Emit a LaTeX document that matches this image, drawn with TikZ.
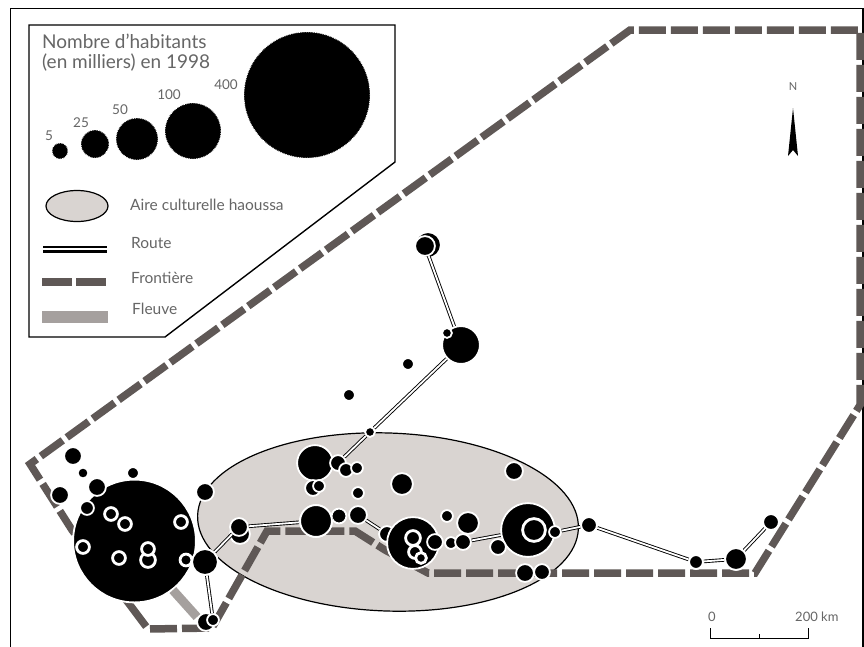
\documentclass[tikz,border=0pt]{standalone}
\usepackage{fontspec}
\setmainfont{Lato}
\usetikzlibrary{shapes.geometric}
\definecolor{front}{HTML}{5F5856}
\definecolor{fleuve}{HTML}{A5A09E}
\definecolor{aire}{HTML}{D9D4D1}
\definecolor{txt}{HTML}{666666}
\tikzset{
  city/.style={circle,fill=black,draw=white,line width=1.8pt,inner sep=0pt,minimum size=#1+1.8pt},
  ringcity/.style={circle,fill=black,draw=white,line width=2.8pt,inner sep=0pt,minimum size=#1+2.8pt},
  lcity/.style={circle,fill=black,draw=white,line width=.8pt,densely dotted,inner sep=0pt,minimum size=#1},
  road/.style={draw=black,double=white,line width=.9pt,double distance=1.8pt},
  frontier/.style={draw=front,line width=7.5pt,dash pattern=on 27pt off 5pt},
  river/.style={draw=fleuve,line width=#1},
  lab/.style={text=txt,inner sep=0pt,font=\fontsize{#1}{#1}\selectfont,anchor=west},
  area/.style={ellipse,fill=aire,draw=black,line width=1.2pt,inner sep=0pt}
}
\begin{document}
\begin{tikzpicture}[x=1pt,y=-1pt]
\useasboundingbox (0,0) rectangle (864,646);
\fill[white] (0,0) rectangle (864,646);
\begin{scope}
\clip (0,0) rectangle (864,646);
\draw[black,line width=1.2pt] (10.5,660) -- (10.5,8.5) -- (863,8.5) -- (863,660);
\end{scope}
% frontier corners
\coordinate (f1) at (30,464);
\coordinate (f2) at (630,30);
\coordinate (f3) at (860,30);
\coordinate (f4) at (860,405);
\coordinate (f5) at (755,573);
\coordinate (f6) at (428,573);
\coordinate (f7) at (385,550);
\coordinate (f8) at (355,531);
\coordinate (f9) at (267,531);
\coordinate (f10) at (212,628);
\coordinate (f11) at (148,629);
\coordinate (f12) at (130,605);
\coordinate (f13) at (72,530);
% main area
\node[area,minimum width=381pt,minimum height=178pt,rotate=-2] (zone) at (388,522) {};
\draw[frontier] (f12) -- (f11) -- (f10) -- (f9) -- (f8) -- (f7) -- (f6) -- (f5) -- (f4) -- (f3) -- (f2) -- (f1) -- (f13) -- cycle;
% large city
\node[city=121pt] (kano0) at (134.5,541) {};
% other cities
\node[city=16pt] (c1) at (73,456) {};
\node[city=9pt] (c2) at (83,473) {};
\node[city=16pt] (c3) at (97,487) {};
\node[city=10pt] (c4) at (133,473) {};
\node[city=16pt] (c5) at (60,495) {};
\node[city=12pt] (c6) at (87,508) {};
\node[ringcity=10pt] (c7) at (111,514) {};
\node[ringcity=10pt] (c8) at (125,524) {};
\node[ringcity=10pt] (c9) at (181,522) {};
\node[ringcity=10pt] (c10) at (83,547) {};
\node[ringcity=10pt] (c11) at (119,558) {};
\node[ringcity=12pt] (c13) at (148,560) {};
\node[ringcity=10pt] (c12) at (148,549) {};
\node[ringcity=9pt] (c14) at (186,560) {};
\node[city=16pt] (c15) at (205,492) {};
\node[city=24pt] (c16) at (205,562) {};
\node[city=18pt] (c17b) at (240,534) {};
\node[city=16pt] (c17) at (239,527) {};
\node[city=16pt] (c18b) at (206,622) {};
\node[city=10pt] (c18) at (213,620) {};
\node[city=24pt] (c19b) at (428,245) {};
\node[city=18pt] (c19) at (425,246) {};
\node[city=36pt] (c20) at (461,345) {};
\node[city=8pt] (c21) at (447,333) {};
\node[city=10pt] (c22) at (408,364) {};
\node[city=10pt] (c23) at (349,395) {};
\node[city=8pt] (c24) at (370,432) {};
\node[city=34pt] (c25) at (315,463) {};
\node[city=14pt] (c26) at (338,463) {};
\node[city=12pt] (c27) at (346,470) {};
\node[city=10pt] (c28) at (357,468) {};
\node[city=14pt] (c29b) at (313,488) {};
\node[city=10pt] (c29) at (319,486) {};
\node[city=10pt] (c30) at (358,493) {};
\node[city=20pt] (c31) at (402,484) {};
\node[city=16pt] (c32) at (514,471) {};
\node[city=30pt] (c33) at (316,521) {};
\node[city=13pt] (c34) at (339,516) {};
\node[city=16pt] (c35) at (358,515) {};
\node[city=14pt] (c36) at (387,534) {};
\node[city=50pt] (c37) at (413,543) {};
\node[ringcity=12pt] (c38) at (413,538) {};
\node[ringcity=10pt] (c39) at (415,552) {};
\node[ringcity=8pt] (c40) at (421,558) {};
\node[city=14pt] (c41) at (435,542) {};
\node[city=10pt] (c42) at (451,543) {};
\node[city=14pt] (c43) at (463,542) {};
\node[city=10pt] (c44) at (447,516) {};
\node[city=20pt] (c45) at (468,523) {};
\node[city=52pt] (c46) at (528,530) {};
\node[ringcity=20pt] (c47) at (534,530) {};
\node[city=10pt] (c48) at (555,532) {};
\node[city=14pt] (c49) at (498,547) {};
\node[city=16pt] (c50) at (525,573) {};
\node[city=14pt] (c51) at (542,572) {};
\node[city=14pt] (c52) at (589,525) {};
\node[city=12pt] (c53) at (696,562) {};
\node[city=20pt] (c54) at (736,559) {};
\node[city=14pt] (c55) at (771,522) {};
% roads
\coordinate (rv) at (197,617);
\draw[river=9pt] (kano0.-52) -- (rv);
\draw[road] (c19) -- (c20);
\draw[road] (c20) -- (c24);
\draw[road] (c24) -- (c26);
\draw[road] (c17) -- (c33);
\draw[road] (c33) -- (c34);
\draw[road] (c35) -- (c36);
\draw[road] (c43) -- (c46);
\draw[road] (c48) -- (c52);
\draw[road] (c52) -- (c53);
\draw[road] (c53) -- (c54);
\draw[road] (c54) -- (c55);
\draw[road] (c16) -- (c17);
\draw[road] (c16) -- (c18);
% redraw end cities above their roads
\node[city=14pt] (d52) at (c52) {};
\node[city=12pt] (d53) at (c53) {};
\node[city=20pt] (d54) at (c54) {};
\node[city=14pt] (d55) at (c55) {};
\node[city=36pt] (d20) at (c20) {};
\node[city=8pt] (d21) at (c21) {};
\node[city=24pt] (d16) at (c16) {};
\node[city=30pt] (d33) at (c33) {};
% legend box
\draw[fill=white,draw=black,line width=1.4pt] (29,25) -- (395,25) -- (395,162) -- (165,337) -- (29,337) -- cycle;
\node[lab=19] (t1) at (42,41) {Nombre d'habitants};
\node[lab=19] (t2) at (42,63) {(en milliers) en 1998};
\node[lcity=16pt] (l5) at (60,151) {};
\node[lcity=28pt] (l25) at (95,144) {};
\node[lcity=42pt] (l50) at (137,139) {};
\node[lcity=56pt] (l100) at (193,131) {};
\node[lcity=126pt] (l400) at (307,95) {};
\node[lab=13.5,anchor=center] (n5) at (49,136) {5};
\node[lab=13.5,anchor=center] (n25) at (81,123) {25};
\node[lab=13.5,anchor=center] (n50) at (120,110) {50};
\node[lab=13.5,anchor=center] (n100) at (169,95) {100};
\node[lab=13.5,anchor=center] (n400) at (226,85) {400};
\node[ellipse,fill=aire,draw=black,line width=1.2pt,inner sep=0pt,minimum width=62pt,minimum height=31pt] (lz) at (77,206) {};
\node[lab=15.5] (t3) at (130,205) {Aire culturelle haoussa};
\coordinate (lr1) at (43,249); \coordinate (lr2) at (107,249);
\draw[draw=black,double=white,line width=2.5pt,double distance=2pt] (lr1) -- (lr2);
\node[lab=15.5] (t4) at (131,243) {Route};
\coordinate (lf1) at (42,282); \coordinate (lf2) at (108,282);
\draw[draw=front,line width=7.5pt,dash pattern=on 30pt off 4pt] (lf1) -- (lf2);
\node[lab=15.5] (t5) at (131,278) {Frontière};
\coordinate (lv1) at (42,317); \coordinate (lv2) at (108,317);
\draw[river=12pt] (lv1) -- (lv2);
\node[lab=15.5] (t6) at (132,309) {Fleuve};
% scale
\coordinate (s1) at (710,628); \coordinate (s2) at (710,638); \coordinate (s3) at (808,638); \coordinate (s4) at (808,628); \coordinate (s5) at (759,638); \coordinate (s6) at (759,634);
\draw[black,line width=.8pt] (s1) -- (s2) -- (s3) -- (s4);
\draw[black,line width=.8pt] (s5) -- (s6);
\node[lab=13,anchor=center] (t7) at (712,617) {0};
\node[lab=13,anchor=west] (t8) at (795,617) {200 km};
% north
\node[lab=11,anchor=center] (nn) at (793,87) {N};
\coordinate (na) at (793,108); \coordinate (nb) at (788,156); \coordinate (nc) at (793,150); \coordinate (nd) at (798,156);
\fill[black] (na) -- (nb) -- (nc) -- (nd) -- cycle;
\end{tikzpicture}
\end{document}
